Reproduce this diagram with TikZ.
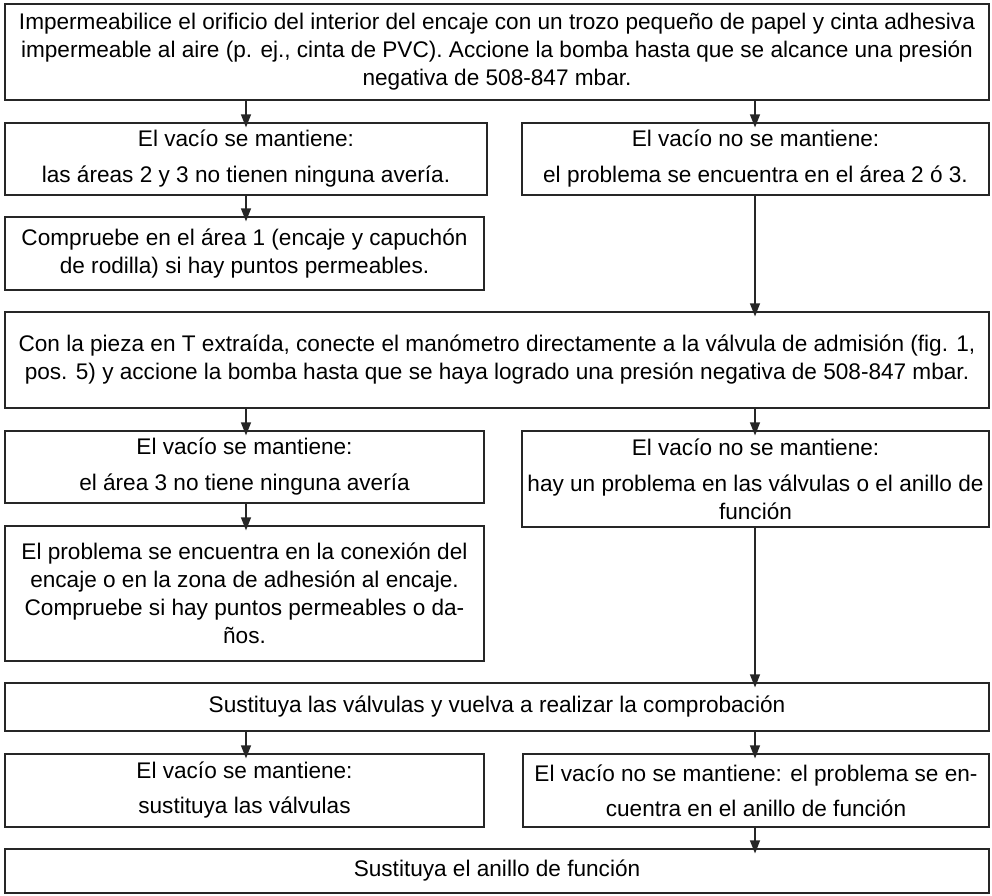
\documentclass[tikz,border=0pt]{standalone}
\usepackage{fontspec}
\setmainfont{Liberation Sans}
\usetikzlibrary{arrows.meta}
\begin{document}
\begin{tikzpicture}[x=1pt,y=-1pt,
  box/.style={draw=black!85, line width=1.2pt, inner sep=0pt, align=center, font=\fontsize{22.6}{28}\selectfont},
  arr/.style={draw=black!85, line width=1.2pt, shorten >=-5pt, -{Triangle[length=13pt,width=10pt]}}]
\useasboundingbox (0,0) rectangle (992,895);
\coordinate (cl) at (246,0);
\coordinate (cr) at (755,0);

\node[box, minimum width=984pt, minimum height=96pt] (b1) at (497,52)
 {Impermeabilice el orificio del interior del encaje con un trozo pequeño de papel y cinta adhesiva\\
  impermeable al aire (p. ej., cinta de PVC). Accione la bomba hasta que se alcance una presión\\
  negativa de 508-847 mbar.};
\node[box, minimum width=482pt, minimum height=72pt] (b2l) at (246,159)
 {El vacío se mantiene:\\[8pt] las áreas 2 y 3 no tienen ninguna avería.};
\node[box, minimum width=467pt, minimum height=72pt] (b2r) at (755.5,159)
 {El vacío no se mantiene:\\[8pt] el problema se encuentra en el área 2 ó 3.};
\node[box, minimum width=479pt, minimum height=73pt] (b3l) at (244.5,253.5)
 {Compruebe en el área 1 (encaje y capuchón\\ de rodilla) si hay puntos permeables.};
\node[box, minimum width=984pt, minimum height=96pt] (b4) at (497,360)
 {Con la pieza en T extraída, conecte el manómetro directamente a la válvula de admisión (fig. 1,\\
  pos. 5) y accione la bomba hasta que se haya logrado una presión negativa de 508-847 mbar.};
\node[box, minimum width=479pt, minimum height=72pt] (b5l) at (244.5,467)
 {El vacío se mantiene:\\[8pt] el área 3 no tiene ninguna avería};
\node[box, minimum width=467pt, minimum height=96pt] (b5r) at (755.5,479)
 {El vacío no se mantiene:\\[8pt] hay un problema en las válvulas o el anillo de\\ función};
\node[box, minimum width=479pt, minimum height=135pt] (b6l) at (244.5,593.5)
 {El problema se encuentra en la conexión del\\ encaje o en la zona de adhesión al encaje.\\
  Compruebe si hay puntos permeables o da-\\ ños.};
\node[box, minimum width=984pt, minimum height=48pt] (b7) at (497,707)
 {Sustituya las válvulas y vuelva a realizar la comprobación};
\node[box, minimum width=479pt, minimum height=73pt] (b8l) at (244.5,790.5)
 {El vacío se mantiene:\\[7pt] sustituya las válvulas};
\node[box, minimum width=466pt, minimum height=73pt] (b8r) at (756,790.5)
 {El vacío no se mantiene: el problema se en-\\[7pt] cuentra en el anillo de función};
\node[box, minimum width=984pt, minimum height=44pt] (b9) at (497,871)
 {Sustituya el anillo de función};

\draw[arr] (b1.south -| cl) -- (b2l.north -| cl);
\draw[arr] (b1.south -| cr) -- (b2r.north -| cr);
\draw[arr] (b2l.south -| cl) -- (b3l.north -| cl);
\draw[arr] (b2r.south -| cr) -- (b4.north -| cr);
\draw[arr] (b4.south -| cl) -- (b5l.north -| cl);
\draw[arr] (b4.south -| cr) -- (b5r.north -| cr);
\draw[arr] (b5l.south -| cl) -- (b6l.north -| cl);
\draw[arr] (b5r.south -| cr) -- (b7.north -| cr);
\draw[arr] (b7.south -| cl) -- (b8l.north -| cl);
\draw[arr] (b7.south -| cr) -- (b8r.north -| cr);
\draw[arr] (b8r.south -| cr) -- (b9.north -| cr);
\end{tikzpicture}
\end{document}
